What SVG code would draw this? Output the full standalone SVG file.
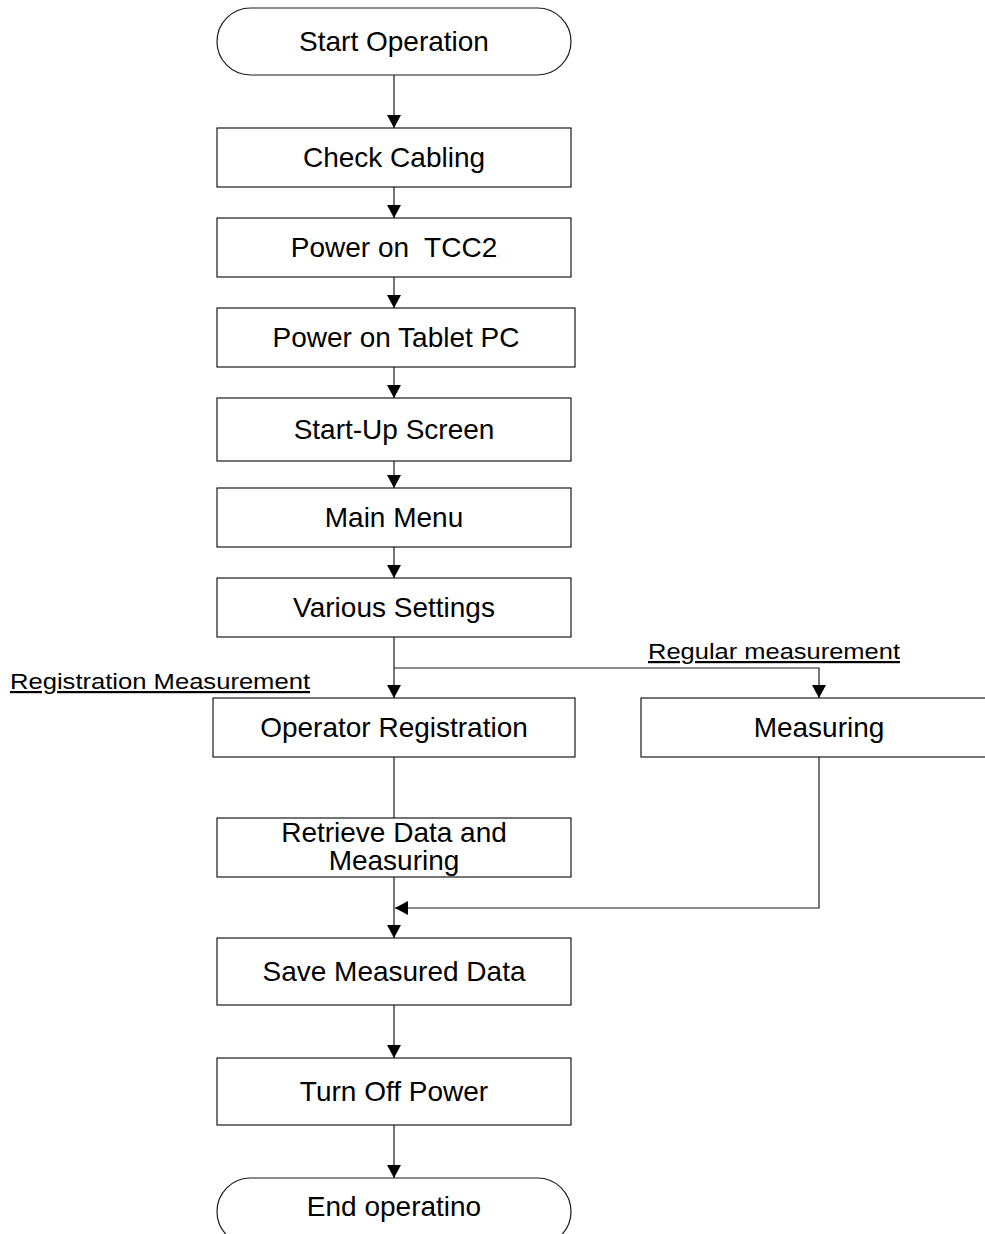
<svg xmlns="http://www.w3.org/2000/svg" width="985" height="1234" viewBox="0 0 985 1234">
<defs>
<style>
.box{fill:#fff;stroke:#1a1a1a;stroke-width:1.2}
.t{font-family:"Liberation Sans",Arial,sans-serif;font-size:28px;fill:#000;text-anchor:middle}
.lbl{font-family:"Liberation Sans",Arial,sans-serif;font-size:22px;fill:#000;text-decoration:underline}
.c{fill:none;stroke:#1a1a1a;stroke-width:1.2}
</style>
<marker id="arr" markerUnits="userSpaceOnUse" markerWidth="13" markerHeight="14" refX="13" refY="7" orient="auto">
<path d="M0,0 L13,7 L0,14 z" fill="#000"/>
</marker>
</defs>
<rect width="985" height="1234" fill="#fff"/>
<g id="connectors">
<path class="c" d="M394,75 V128" marker-end="url(#arr)"/>
<path class="c" d="M394,187 V218" marker-end="url(#arr)"/>
<path class="c" d="M394,277 V308" marker-end="url(#arr)"/>
<path class="c" d="M394,367 V398" marker-end="url(#arr)"/>
<path class="c" d="M394,461 V488" marker-end="url(#arr)"/>
<path class="c" d="M394,547 V578" marker-end="url(#arr)"/>
<path class="c" d="M394,637 V698" marker-end="url(#arr)"/>
<path class="c" d="M394,668 H819 V698" marker-end="url(#arr)"/>
<path class="c" d="M394,757 V818"/>
<path class="c" d="M394,877 V938" marker-end="url(#arr)"/>
<path class="c" d="M819,757 V908 H395" marker-end="url(#arr)"/>
<path class="c" d="M394,1005 V1058" marker-end="url(#arr)"/>
<path class="c" d="M394,1125 V1178" marker-end="url(#arr)"/>
</g>
<g id="start"><rect class="box" x="217" y="8" width="354" height="67" rx="33.5" ry="33.5"/><text class="t" x="394" y="51">Start Operation</text></g>
<g id="check"><rect class="box" x="217" y="128" width="354" height="59"/><text class="t" x="394" y="167">Check Cabling</text></g>
<g id="tcc2"><rect class="box" x="217" y="218" width="354" height="59"/><text class="t" x="394" y="257" xml:space="preserve">Power on  TCC2</text></g>
<g id="tablet"><rect class="box" x="217" y="308" width="358" height="59"/><text class="t" x="396" y="347">Power on Tablet PC</text></g>
<g id="startup"><rect class="box" x="217" y="398" width="354" height="63"/><text class="t" x="394" y="439">Start-Up Screen</text></g>
<g id="mainmenu"><rect class="box" x="217" y="488" width="354" height="59"/><text class="t" x="394" y="527">Main Menu</text></g>
<g id="settings"><rect class="box" x="217" y="578" width="354" height="59"/><text class="t" x="394" y="617">Various Settings</text></g>
<g id="lbl-reg"><text class="lbl" x="10" y="689" textLength="300" lengthAdjust="spacingAndGlyphs">Registration Measurement</text></g>
<g id="lbl-regular"><text class="lbl" x="648" y="659" textLength="252" lengthAdjust="spacingAndGlyphs">Regular measurement</text></g>
<g id="operator"><rect class="box" x="213" y="698" width="362" height="59"/><text class="t" x="394" y="737">Operator Registration</text></g>
<g id="measuring"><rect class="box" x="641" y="698" width="360" height="59"/><text class="t" x="819" y="737">Measuring</text></g>
<g id="retrieve"><rect class="box" x="217" y="818" width="354" height="59"/><text class="t" x="394" y="842">Retrieve Data and</text><text class="t" x="394" y="870">Measuring</text></g>
<g id="save"><rect class="box" x="217" y="938" width="354" height="67"/><text class="t" x="394" y="981">Save Measured Data</text></g>
<g id="off"><rect class="box" x="217" y="1058" width="354" height="67"/><text class="t" x="394" y="1101">Turn Off Power</text></g>
<g id="end"><rect class="box" x="217" y="1178" width="354" height="67" rx="33.5" ry="33.5"/><text class="t" x="394" y="1216">End operatino</text></g>
</svg>
